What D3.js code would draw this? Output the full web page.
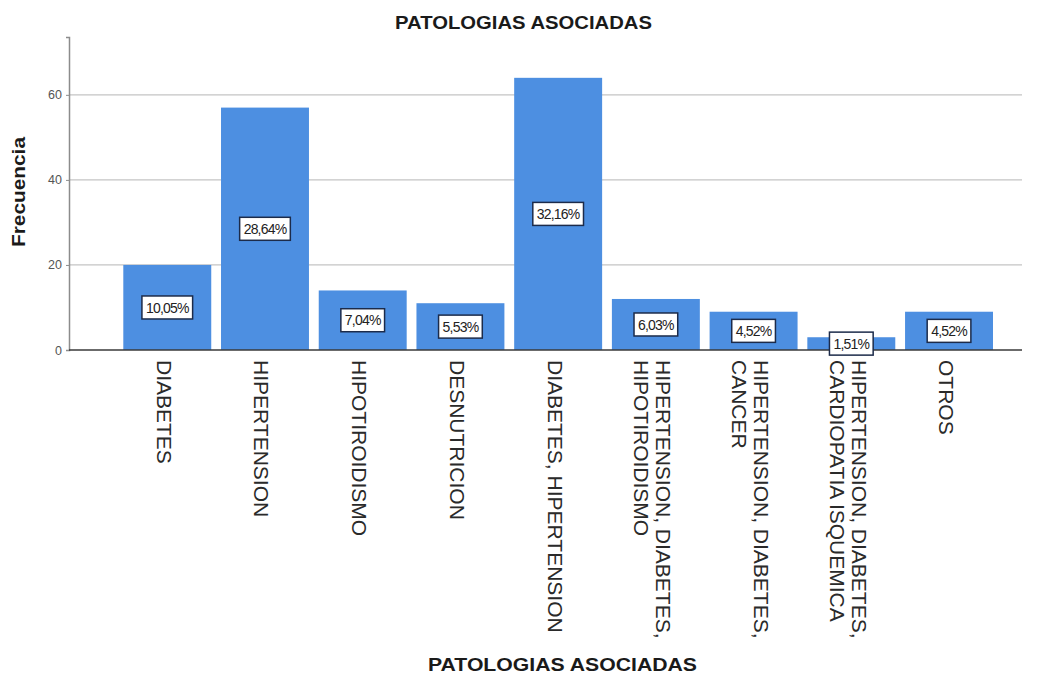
<!DOCTYPE html>
<html>
<head>
<meta charset="utf-8">
<script src="https://cdn.jsdelivr.net/npm/d3@7"></script>
<style>
  body { margin: 0; background: #fff; }
  text { font-family: "Liberation Sans", Arial, sans-serif; }
</style>
</head>
<body>
<div id="chart"></div>
<script>
// datos
var categories = [
    ["DIABETES"],
    ["HIPERTENSION"],
    ["HIPOTIROIDISMO"],
    ["DESNUTRICION"],
    ["DIABETES, HIPERTENSION"],
    ["HIPERTENSION, DIABETES,", "HIPOTIROIDISMO"],
    ["HIPERTENSION, DIABETES,", "CANCER"],
    ["HIPERTENSION, DIABETES,", "CARDIOPATIA ISQUEMICA"],
    ["OTROS"]
]
var counts = [20, 57, 14, 11, 64, 12, 9, 3, 9]
var percents = ["10,05%", "28,64%", "7,04%", "5,53%", "32,16%", "6,03%", "4,52%", "1,51%", "4,52%"]
var yTicks = [0, 20, 40, 60]

var svg = d3.select("#chart")
  .append("svg")
  .attr("width", 1041)
  .attr("height", 677)

var x = d3.scaleBand()
    .domain(d3.range(counts.length))
    .range([123.3, 993])
    .paddingInner(0.1)
    .paddingOuter(0)
var y = d3.scaleLinear()
    .domain([0, 73.6])
    .range([350, 37])

// lineas de la grilla
svg.selectAll(".grid")
    .data(yTicks.filter(function(d){ return d > 0 }))
    .enter()
    .append("line")
    .attr("x1", 69)
    .attr("x2", 1022)
    .attr("y1", function(d){ return y(d) })
    .attr("y2", function(d){ return y(d) })
    .attr("stroke", "#c4c4c4")
    .attr("stroke-width", 1.2)

// eje y
var yAxis = svg.append("g")
    .attr("transform", "translate(69,0)")
    .call(d3.axisLeft(y).tickValues(yTicks).tickSize(3).tickPadding(4))
yAxis.select(".domain").attr("stroke", "#8c8c8c").attr("stroke-width", 1.5)
yAxis.selectAll(".tick line").attr("stroke", "#8c8c8c")
yAxis.selectAll(".tick text")
    .attr("fill", "#555")
    .style("font-size", "12.5px")
    .style("font-family", "'Liberation Sans', Arial, sans-serif")

// barras
svg.selectAll(".bar")
    .data(counts)
    .enter()
    .append("rect")
    .attr("x", function(d, i){ return x(i) })
    .attr("y", function(d){ return y(d) })
    .attr("width", x.bandwidth())
    .attr("height", function(d){ return y(0) - y(d) })
    .attr("fill", "#4d8fe1")

// linea base
svg.append("line")
    .attr("x1", 69)
    .attr("x2", 1022)
    .attr("y1", y(0))
    .attr("y2", y(0))
    .attr("stroke", "#3a3a3a")
    .attr("stroke-width", 1.5)

// etiquetas de porcentaje
var boxes = svg.selectAll(".pct")
    .data(counts)
    .enter()
    .append("g")
    .attr("transform", function(d, i){
        return "translate(" + (x(i) + x.bandwidth() / 2) + "," + y(d / 2) + ")"
    })
boxes.append("rect")
    .attr("fill", "#fff")
    .attr("stroke", "#1c2b4a")
    .attr("stroke-width", 1.5)
boxes.append("text")
    .attr("text-anchor", "middle")
    .attr("dy", "0.36em")
    .attr("fill", "#222")
    .style("font-size", "14px")
    .style("letter-spacing", "-0.8px")
    .text(function(d, i){ return percents[i] })
boxes.each(function(){
    var g = d3.select(this)
    var w = g.select("text").node().getComputedTextLength() + 8
    g.select("rect")
        .attr("x", -w / 2)
        .attr("y", -11.5)
        .attr("width", w)
        .attr("height", 23)
})

// etiquetas de categoria (rotadas)
var lineH = 22
svg.selectAll(".cat")
    .data(categories)
    .enter()
    .append("g")
    .each(function(lines, i){
        var c = x(i) + x.bandwidth() / 2 - 3
        var g = d3.select(this)
        lines.forEach(function(t, k){
            var bx = c - 7.5 + (lines.length - 1) * lineH / 2 - k * lineH
            g.append("text")
                .attr("transform", "translate(" + bx + ",360) rotate(90)")
                .attr("fill", "#2a2a2a")
                .style("font-size", "21px")
                .text(t)
        })
    })

// titulos
svg.append("text")
    .attr("x", 523.5)
    .attr("y", 29)
    .attr("text-anchor", "middle")
    .attr("font-weight", "bold")
    .attr("fill", "#1a1a1a")
    .style("font-size", "19px")
    .attr("textLength", 257)
    .attr("lengthAdjust", "spacingAndGlyphs")
    .text("PATOLOGIAS ASOCIADAS")

svg.append("text")
    .attr("x", 562.5)
    .attr("y", 671)
    .attr("text-anchor", "middle")
    .attr("font-weight", "bold")
    .attr("fill", "#1a1a1a")
    .style("font-size", "19px")
    .attr("textLength", 269)
    .attr("lengthAdjust", "spacingAndGlyphs")
    .text("PATOLOGIAS  ASOCIADAS")

svg.append("text")
    .attr("transform", "translate(25,192) rotate(-90)")
    .attr("text-anchor", "middle")
    .attr("font-weight", "bold")
    .attr("fill", "#1a1a1a")
    .style("font-size", "18px")
    .attr("textLength", 110)
    .attr("lengthAdjust", "spacingAndGlyphs")
    .text("Frecuencia")
</script>
</body>
</html>
